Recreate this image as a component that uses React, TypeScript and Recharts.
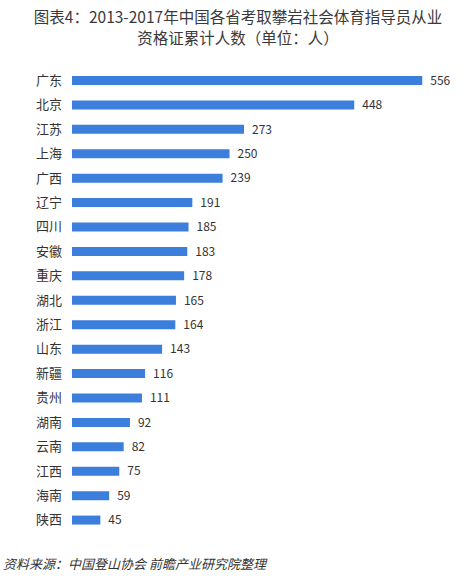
import { BarChart, Bar, XAxis, YAxis, LabelList } from 'recharts'

// 省份（从上到下）
const provinces = [
  '广东', '北京', '江苏', '上海', '广西', '辽宁', '四川', '安徽', '重庆', '湖北',
  '浙江', '山东', '新疆', '贵州', '湖南', '云南', '江西', '海南', '陕西',
]

// 累计人数
const counts = [556, 448, 273, 250, 239, 191, 185, 183, 178, 165, 164, 143, 116, 111, 92, 82, 75, 59, 45]

const titleLines = [
  '图表4：2013-2017年中国各省考取攀岩社会体育指导员从业',
  '资格证累计人数（单位：人）',
]
const sourceText = '资料来源：中国登山协会 前瞻产业研究院整理'

const chartData = provinces.map((name, i) => ({ name, value: counts[i] }))

const FONT = '"Noto Sans CJK SC", "Noto Sans", sans-serif'
const BAR_COLOR = '#3b7edb'

export default function App() {
  return (
    <div
      style={{
        position: 'absolute',
        left: 0,
        top: 0,
        width: 476,
        height: 583,
        background: '#fff',
        fontFamily: FONT,
        overflow: 'hidden',
      }}
    >
      <div
        style={{
          position: 'absolute',
          top: 6,
          left: 0,
          width: 476,
          textAlign: 'center',
          fontSize: 15.5,
          lineHeight: '21px',
          color: '#3a3a3a',
        }}
      >
        {titleLines.map((t) => (
          <div key={t} style={{ height: 21 }}>{t}</div>
        ))}
      </div>

      <BarChart
        width={476}
        height={583}
        data={chartData}
        layout="vertical"
        margin={{ top: 68, right: 26, left: 0, bottom: 51 }}
        barSize={9}
      >
        <XAxis type="number" domain={[0, 600]} hide />
        <YAxis
          type="category"
          dataKey="name"
          width={72}
          axisLine={false}
          tickLine={false}
          tickMargin={4}
          tick={{ fontSize: 13, fill: '#333', fontFamily: FONT }}
        />
        <Bar dataKey="value" fill={BAR_COLOR} isAnimationActive={false}>
          <LabelList
            dataKey="value"
            position="right"
            offset={8}
            style={{ fontSize: 12, fill: '#333', fontFamily: FONT }}
          />
        </Bar>
      </BarChart>

      <div
        style={{
          position: 'absolute',
          top: 554,
          left: 3,
          fontSize: 13,
          fontStyle: 'italic',
          color: '#333',
          whiteSpace: 'pre',
        }}
      >
        {sourceText}
      </div>
    </div>
  )
}
